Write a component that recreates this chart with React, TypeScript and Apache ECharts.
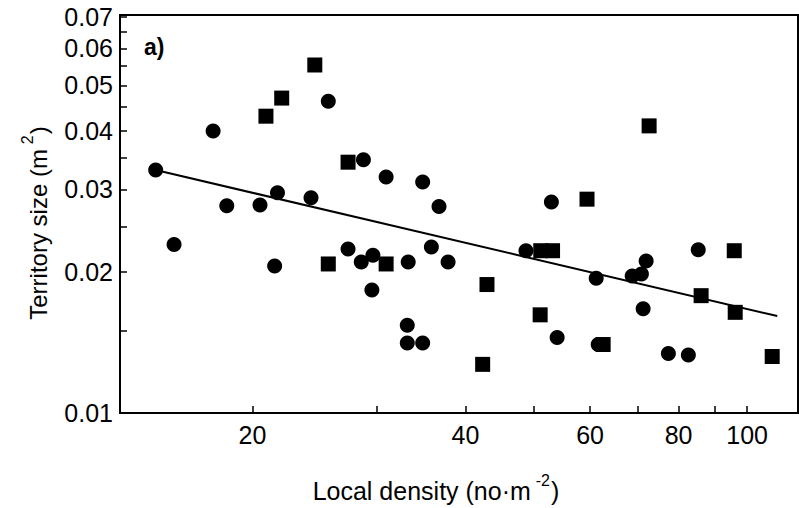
import React, { useEffect, useRef } from "react";
import * as echarts from "echarts";

// Local density (no·m^-2) and territory size (m^2)
const circleX = [14.6, 15.5, 17.6, 18.4, 20.5, 21.5, 21.7, 24.2, 25.6, 27.3, 28.7, 28.5, 29.5, 29.6, 30.9, 33.1, 33.1, 33.2, 34.8, 34.8, 35.8, 36.7, 37.8, 48.7, 52.9, 53.9, 61.2, 61.6, 68.8, 70.9, 72.0, 71.3, 77.4, 82.6, 85.3];
const circleY = [0.033, 0.0229, 0.04, 0.0277, 0.0278, 0.0206, 0.0295, 0.0288, 0.0463, 0.0224, 0.0347, 0.021, 0.0183, 0.0217, 0.0319, 0.0154, 0.0141, 0.021, 0.0141, 0.0311, 0.0226, 0.0276, 0.021, 0.0222, 0.0282, 0.0145, 0.0194, 0.014, 0.0196, 0.0198, 0.0211, 0.0167, 0.0134, 0.0133, 0.0223];
const squareX = [20.9, 22.0, 24.5, 27.3, 25.6, 30.9, 42.3, 42.9, 51.1, 53.1, 51.0, 59.4, 62.6, 72.7, 86.1, 95.9, 96.2, 108.5];
const squareY = [0.043, 0.047, 0.0553, 0.0343, 0.0208, 0.0208, 0.0127, 0.0188, 0.0222, 0.0222, 0.0162, 0.0286, 0.014, 0.041, 0.0178, 0.0222, 0.0164, 0.0132];
const fitX = [14.6, 110.3];
const fitY = [0.033, 0.0161];

const xTickValues = [20, 30, 40, 50, 60, 70, 80, 90, 100];
const xLabelValues = [20, 40, 60, 80, 100];
const yTickValues = [0.015, 0.02, 0.025, 0.03, 0.035, 0.04, 0.045, 0.05, 0.055, 0.06, 0.065, 0.07];
const yLabelValues = [0.01, 0.02, 0.03, 0.04, 0.05, 0.06, 0.07];

const xMin = 13;
const xMax = 118;
const yMin = 0.01;
const yMax = 0.0707;

const FONT = "'Liberation Sans', Arial, Helvetica, sans-serif";
const lg = (v: number) => Math.log10(v);
const pairs = (xs: number[], ys: number[]) => xs.map((x, i) => [lg(x), lg(ys[i])]);

export default function App() {
  const ref = useRef<HTMLDivElement>(null);
  useEffect(() => {
    if (!ref.current) return;
    const chart = echarts.init(ref.current, null, { renderer: "svg" });
    const fmtX = (v: number) => String(Math.round(Math.pow(10, v)));
    const fmtY = (v: number) => (Math.round(Math.pow(10, v) * 100) / 100).toFixed(2);
    const mkRich = (size: number) => ({
      a: { fontSize: size, fontFamily: FONT, color: "#000", lineHeight: 31, verticalAlign: "bottom" },
      s: { fontSize: 16, fontFamily: FONT, color: "#000", lineHeight: 31, verticalAlign: "top", padding: [0, 1, 0, 5] },
    });
    chart.setOption({
      animation: false,
      backgroundColor: "#ffffff",
      grid: {
        left: 120,
        top: 15,
        right: 1,
        bottom: 95,
        show: true,
        borderColor: "#000",
        borderWidth: 2,
        backgroundColor: "transparent",
      },
      xAxis: {
        type: "value",
        min: lg(xMin),
        max: lg(xMax),
        splitLine: { show: false },
        axisLine: { show: true, lineStyle: { color: "#000", width: 2 } },
        axisTick: {
          show: true,
          inside: true,
          length: 7,
          lineStyle: { color: "#000", width: 1.5 },
          customValues: xTickValues.map(lg),
        },
        axisLabel: {
          customValues: xLabelValues.map(lg),
          formatter: fmtX,
          color: "#000",
          fontSize: 25,
          fontFamily: FONT,
          margin: 9,
        },
      },
      yAxis: {
        type: "value",
        min: lg(yMin),
        max: lg(yMax),
        splitLine: { show: false },
        axisLine: { show: true, lineStyle: { color: "#000", width: 2 } },
        axisTick: {
          show: true,
          inside: true,
          length: 7,
          lineStyle: { color: "#000", width: 1.5 },
          customValues: yTickValues.map(lg),
        },
        axisLabel: {
          customValues: yLabelValues.map(lg),
          formatter: fmtY,
          color: "#000",
          fontSize: 25,
          fontFamily: FONT,
          margin: 7,
        },
      },
      series: [
        {
          type: "line",
          data: pairs(fitX, fitY),
          symbol: "none",
          lineStyle: { color: "#000", width: 2 },
          z: 1,
        },
        {
          type: "scatter",
          data: pairs(circleX, circleY),
          symbol: "circle",
          symbolSize: 15,
          itemStyle: { color: "#000", opacity: 1 },
          z: 2,
        },
        {
          type: "scatter",
          data: pairs(squareX, squareY),
          symbol: "rect",
          symbolSize: 15,
          itemStyle: { color: "#000", opacity: 1 },
          z: 2,
        },
      ],
      graphic: [
        {
          type: "text",
          left: 144,
          top: 35,
          style: { text: "a)", font: `bold 23px ${FONT}`, fill: "#000" },
        },
        {
          type: "text",
          x: 436,
          y: 488,
          style: {
            text: "{a|Local density (no·m}{s|-2}{a|)}",
            rich: mkRich(25),
            align: "center",
            verticalAlign: "middle",
          },
        },
        {
          type: "text",
          x: 35,
          y: 223,
          rotation: Math.PI / 2,
          style: {
            text: "{a|Territory size (m}{s|2}{a|)}",
            rich: mkRich(24),
            align: "center",
            verticalAlign: "middle",
          },
        },
      ],
    });
    return () => chart.dispose();
  }, []);
  return <div ref={ref} style={{ width: 799, height: 508, position: "absolute", left: 0, top: 0 }} />;
}
